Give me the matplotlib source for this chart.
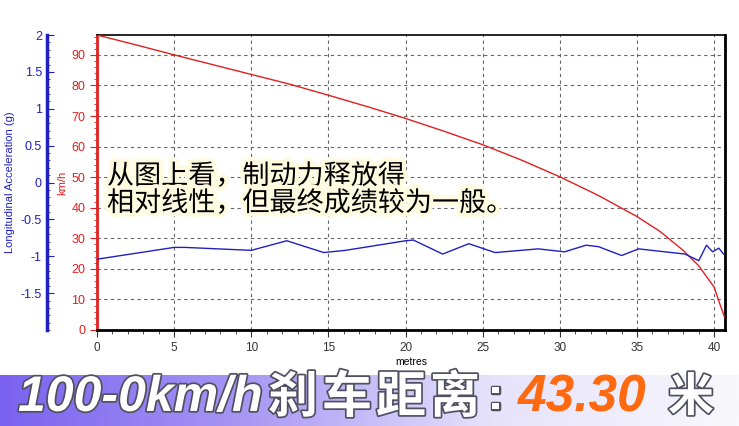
import numpy as np
import matplotlib
matplotlib.use('Agg')
import matplotlib.pyplot as plt
import matplotlib.patheffects as pe
from matplotlib.ticker import MultipleLocator

plt.rcParams['font.family'] = ['Liberation Sans', 'Noto Sans CJK SC', 'DejaVu Sans']

# 速度曲线 (km/h) 对距离 (m)
dist_v = [0, 2.5, 5, 7.5, 10, 12.5, 15, 17.5, 20, 22.5, 25, 27.5, 30, 32.5,
          35, 36.5, 38, 39, 40, 40.4, 40.65]
speed = [96.5, 93.3, 90.0, 86.8, 83.6, 80.4, 76.8, 73.1, 69.2, 65.0, 60.6, 55.6,
         50.1, 44.0, 37.1, 32.2, 26.0, 21.0, 14.0, 8.0, 4.5]

# 纵向加速度 (g)
dist_a = [0, 5.0, 5.7, 10.0, 12.3, 14.7, 16.1, 20.0, 20.5, 22.4, 24.1, 25.8, 28.6,
          30.3, 31.7, 32.5, 34.0, 35.1, 38.1, 39.0, 39.5, 39.9, 40.3, 40.6]
accel = [-1.04, -0.88, -0.88, -0.92, -0.79, -0.95, -0.92, -0.79, -0.78, -0.97,
         -0.83, -0.95, -0.90, -0.94, -0.85, -0.87, -0.99, -0.90, -0.97, -1.06,
         -0.85, -0.94, -0.89, -0.97]

note = '从图上看，制动力释放得\n相对线性，但最终成绩较为一般。'
title_parts = ['100-0km/h', '刹车距离', ':', '43.30', '米']

W, H = 739, 426
fig = plt.figure(figsize=(W / 100, H / 100), dpi=100)
ax = fig.add_axes([97 / W, (H - 330) / H, (725 - 97) / W, (330 - 35) / H])

red = '#e02020'
blue = '#2020c0'

ax.plot(dist_v, speed, color=red, lw=1.0, zorder=3)
ax.set_xlim(0, 40.7)
ax.set_ylim(0, 96.5)
ax.xaxis.set_major_locator(MultipleLocator(5))
ax.xaxis.set_minor_locator(MultipleLocator(1))
ax.yaxis.set_major_locator(MultipleLocator(10))
ax.yaxis.set_minor_locator(MultipleLocator(2))
ax.grid(True, which='major', ls=(0, (3, 3)), color='#666666', lw=0.8)
ax.tick_params(axis='x', which='both', direction='out', labelsize=8.5, colors='#333333')
ax.tick_params(axis='x', which='major', length=5)
ax.tick_params(axis='x', which='minor', length=3)
ax.tick_params(axis='y', which='both', direction='out', colors=red, labelsize=9)
ax.tick_params(axis='y', which='major', length=5)
ax.tick_params(axis='y', which='minor', length=2)
ax.set_xlabel('metres', fontsize=7.5, labelpad=2)
ax.set_ylabel('km/h', color=red, fontsize=8, labelpad=3)
ax.spines['left'].set_color(red)
ax.spines['left'].set_linewidth(2)
ax.spines['bottom'].set_linewidth(2)
ax.spines['right'].set_linewidth(2)
ax.spines['top'].set_linewidth(1.2)

ax2 = ax.twinx()
ax2.plot(dist_a, accel, color=blue, lw=1.0, zorder=3)
ax2.set_ylim(-2, 2)
ax2.yaxis.set_major_locator(MultipleLocator(0.5))
ax2.yaxis.set_minor_locator(MultipleLocator(0.1))
ax2.spines['left'].set_visible(True)
ax2.spines['left'].set_position(('axes', -0.08))
ax2.spines['left'].set_color(blue)
ax2.spines['left'].set_linewidth(2.5)
ax2.spines['right'].set_visible(False)
ax2.spines['top'].set_visible(False)
ax2.spines['bottom'].set_visible(False)
ax2.yaxis.set_ticks_position('left')
ax2.yaxis.set_label_position('left')
ax2.tick_params(axis='y', which='both', direction='in', colors=blue, labelsize=9)
ax2.tick_params(axis='y', which='major', length=5)
ax2.tick_params(axis='y', which='minor', length=2)
ax2.set_yticks([-1.5, -1, -0.5, 0, 0.5, 1, 1.5, 2])
ax2.set_yticklabels(['-1.5', '-1', '-0.5', '0', '0.5', '1', '1.5', '2'])
ax2.set_ylabel('Longitudinal Acceleration (g)', color=blue, fontsize=8, labelpad=4)

fig.text(107 / W, (H - 190) / H, note, fontsize=19.5, color='black',
         family=['Noto Sans CJK SC'], va='center', ha='left', linespacing=1.0,
         path_effects=[pe.withStroke(linewidth=6, foreground='#fffbe0')], zorder=10)

# 底部横幅
bax = fig.add_axes([0, 0, 1, 51 / H])
grad = np.linspace(0, 1, 256).reshape(1, -1)
cmap = matplotlib.colors.LinearSegmentedColormap.from_list(
    'band', ['#7a62f0', '#a898f4', '#e6e2fb', '#f8f8fc'])
bax.imshow(grad, aspect='auto', cmap=cmap, extent=[0, 1, 0, 1])
bax.set_xlim(0, 1)
bax.set_ylim(0, 1)
bax.axis('off')

outline = [pe.withStroke(linewidth=2.5, foreground='#505060')]
ty = 0.55
bax.text(18 / W, ty, title_parts[0], fontsize=36, color='white', style='italic',
         weight='bold', va='center', ha='left', path_effects=outline)
for i, ch in enumerate(title_parts[1]):
    bax.text((268 + i * 54) / W, ty, ch, fontsize=36, color='white',
             family=['Noto Sans CJK SC'], weight='black', va='center', ha='left',
             path_effects=outline)
bax.text(488 / W, ty, title_parts[2], fontsize=32, color='white', weight='bold',
         va='center', ha='left', path_effects=outline)
bax.text(518 / W, ty, title_parts[3], fontsize=37, color='#ff6a10', style='italic',
         weight='bold', va='center', ha='left')
bax.text(668 / W, ty, title_parts[4], fontsize=33, color='white',
         family=['Noto Sans CJK SC'], weight='black', va='center', ha='left',
         path_effects=outline)

fig.savefig('out.png', dpi=100)
